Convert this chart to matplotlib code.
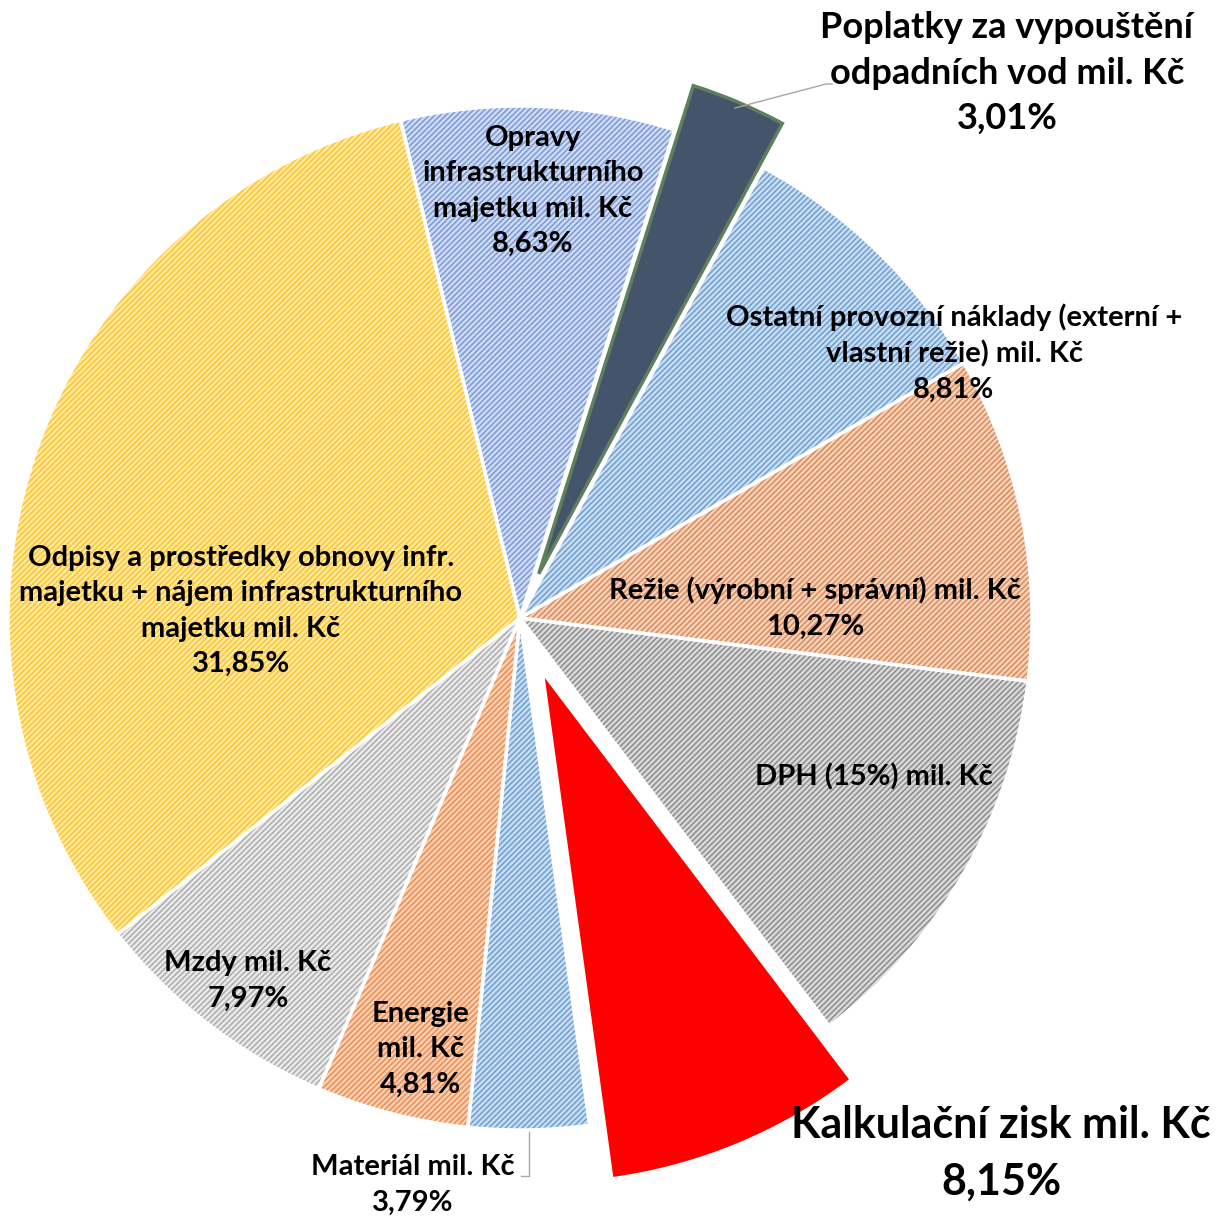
import matplotlib.pyplot as plt
from matplotlib.patches import Wedge

# Data (clockwise from the top)
names = ['Opravy\ninfrastrukturního\nmajetku mil. Kč',
         'Poplatky za vypouštění\nodpadních vod mil. Kč',
         'Ostatní provozní náklady (externí +\nvlastní režie) mil. Kč',
         'Režie (výrobní + správní) mil. Kč',
         'DPH (15%) mil. Kč',
         'Kalkulační zisk mil. Kč',
         'Materiál mil. Kč',
         'Energie\nmil. Kč',
         'Mzdy mil. Kč',
         'Odpisy a prostředky obnovy infr.\nmajetku + nájem infrastrukturního\nmajetku mil. Kč']
shares = [8.63, 3.01, 8.81, 10.27, 12.71, 8.15, 3.79, 4.81, 7.97, 31.85]
pct_text = ['8,63%', '3,01%', '8,81%', '10,27%', '', '8,15%', '3,79%', '4,81%', '7,97%', '31,85%']

# Styling
face = ['#CFDAF3', '#44546A', '#C8DDF1', '#F8D2B8', '#D9D9D9',
        '#FF0000', '#C8DDF1', '#F8D0B4', '#EAEAEA', '#FFE9A6']
hatch_col = ['#7A9AD8', None, '#6E9FD2', '#D98A5C', '#8C8C8C',
             None, '#6E9FD2', '#EE8C50', '#ADADAD', '#FFC425']
explode = [0, 48, 0, 0, 0, 58, 0, 0, 0, 0]
# label centres in image pixels (x, y from top), font sizes, line spacing
label_pos = [(533, 191), (1007, 73), (954, 353), (815, 608), (874, 777),
             (1001, 1153), (413, 1185), (421, 1049), (248, 981), (241, 611)]
label_size = [21, 26, 21, 21, 21, 31, 21, 21, 21, 21]
label_ls = [1.45, 1.45, 1.45, 1.45, 1.45, 1.5, 1.45, 1.45, 1.45, 1.45]

W, H = 1216, 1218
cx, cy, R = 520, 618, 512

plt.rcParams['font.family'] = ['Lato', 'DejaVu Sans']
plt.rcParams['hatch.linewidth'] = 1.1

fig = plt.figure(figsize=(W / 100, H / 100), dpi=100)
ax = fig.add_axes([0, 0, 1, 1])

wedges, _ = ax.pie(shares, radius=R, center=(cx, H - cy), startangle=103.5,
                   counterclock=False, explode=explode, colors=face,
                   wedgeprops=dict(linewidth=0))

for i, (w, hc) in enumerate(zip(wedges, hatch_col)):
    if hc is not None:
        ax.add_patch(Wedge(w.center, w.r, w.theta1, w.theta2, facecolor='none',
                           edgecolor=hc, linewidth=0, hatch='//////',
                           zorder=w.zorder + 0.1))
    ec = '#5F7F5F' if i == 1 else 'white'
    ax.add_patch(Wedge(w.center, w.r, w.theta1, w.theta2, facecolor='none',
                       edgecolor=ec, linewidth=2.5, zorder=w.zorder + 0.2))

for name, pct, (x, y), fs, ls in zip(names, pct_text, label_pos, label_size, label_ls):
    txt = name + ('\n' + pct if pct else '')
    ax.text(x, H - y, txt, ha='center', va='center', fontsize=fs,
            fontweight='bold', linespacing=ls, zorder=10)

# leader lines
ax.plot([735, 826, 832], [H - 108, H - 84, H - 84], color='#A6A6A6', lw=1, zorder=9)
ax.plot([529, 529, 521], [H - 1132, H - 1176, H - 1176], color='#A6A6A6', lw=1, zorder=9)

ax.set_xlim(0, W)
ax.set_ylim(0, H)
ax.set_aspect('equal')
ax.axis('off')

fig.savefig('out.png', dpi=100)
